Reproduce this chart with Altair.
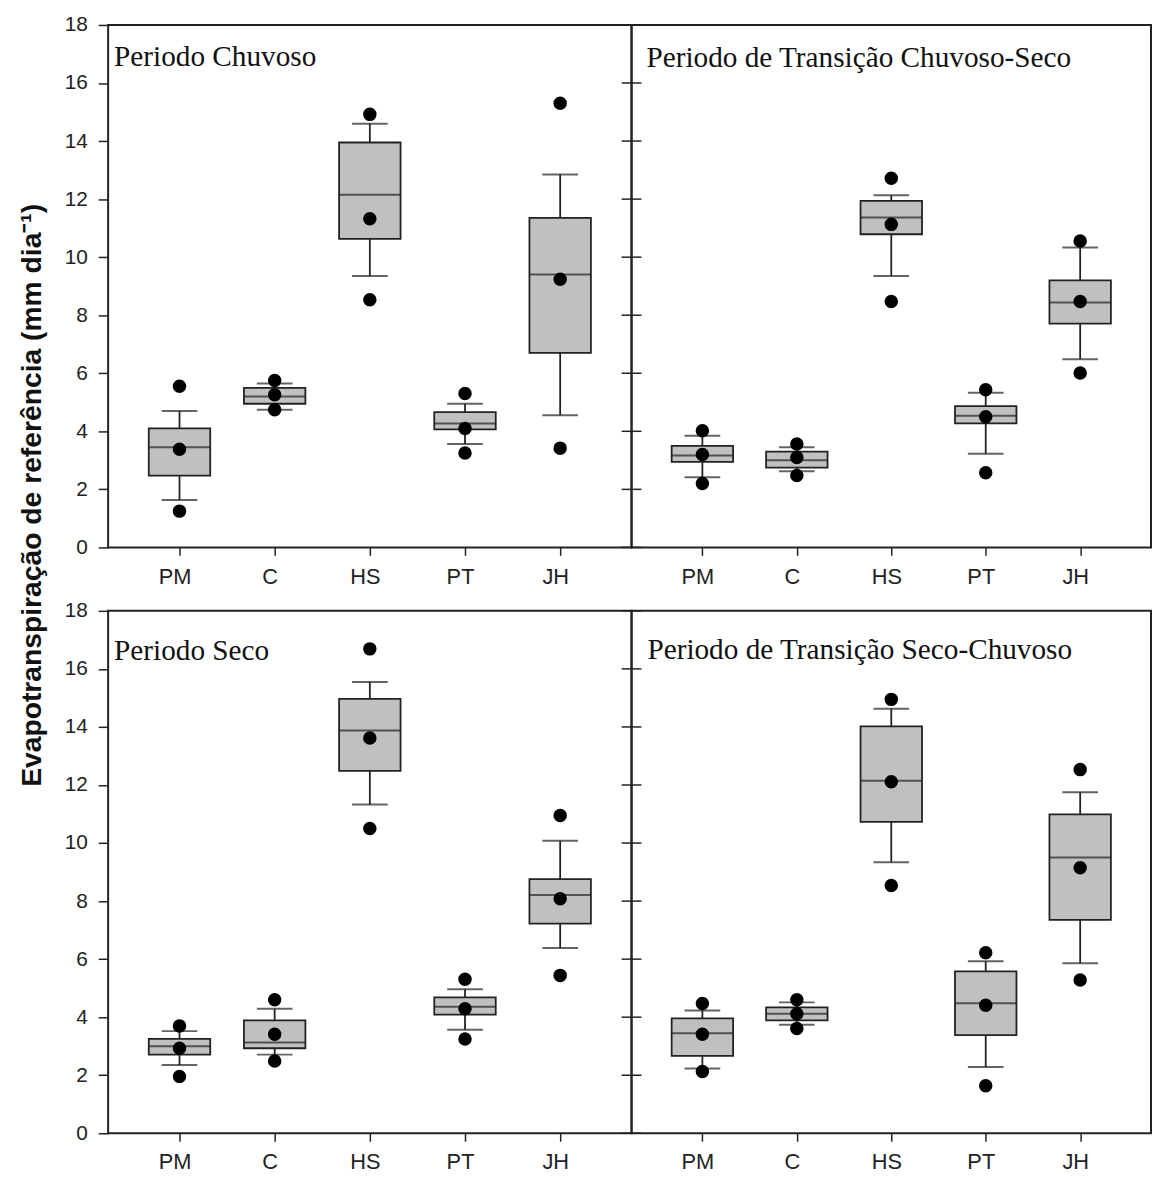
import altair as alt
import pandas as pd

methods = ["PM", "C", "HS", "PT", "JH"]
periods = [
    "Periodo Chuvoso",
    "Periodo de Transição Chuvoso-Seco",
    "Periodo Seco",
    "Periodo de Transição Seco-Chuvoso",
]
y_ticks = [0, 2, 4, 6, 8, 10, 12, 14, 16, 18]
y_title = "Evapotranspiração de referência (mm dia⁻¹)"

# Periodo Chuvoso
chuvoso_whi = [4.70, 5.65, 14.60, 4.95, 12.85]
chuvoso_q3 = [4.10, 5.50, 13.95, 4.66, 11.35]
chuvoso_med = [3.45, 5.20, 12.15, 4.27, 9.40]
chuvoso_q1 = [2.47, 4.95, 10.63, 4.07, 6.70]
chuvoso_wlo = [1.63, 4.74, 9.35, 3.56, 4.55]
chuvoso_phi = [5.55, 5.75, 14.92, 5.30, 15.30]
chuvoso_mean = [3.38, 5.26, 11.32, 4.10, 9.24]
chuvoso_plo = [1.25, 4.74, 8.53, 3.25, 3.42]

# Periodo de Transição Chuvoso-Seco
cs_whi = [3.85, 3.45, 12.13, 5.33, 10.33]
cs_q3 = [3.50, 3.30, 11.94, 4.87, 9.20]
cs_med = [3.17, 3.00, 11.37, 4.54, 8.44]
cs_q1 = [2.95, 2.75, 10.79, 4.27, 7.71]
cs_wlo = [2.42, 2.62, 9.35, 3.23, 6.48]
cs_phi = [4.02, 3.56, 12.72, 5.43, 10.56]
cs_mean = [3.20, 3.10, 11.13, 4.50, 8.47]
cs_plo = [2.20, 2.48, 8.47, 2.57, 6.01]

# Periodo Seco
seco_whi = [3.52, 4.29, 15.55, 4.96, 10.08]
seco_q3 = [3.25, 3.89, 14.97, 4.68, 8.76]
seco_med = [3.00, 3.13, 13.88, 4.36, 8.21]
seco_q1 = [2.71, 2.93, 12.49, 4.09, 7.22]
seco_wlo = [2.35, 2.71, 11.33, 3.57, 6.38]
seco_phi = [3.70, 4.60, 16.69, 5.31, 10.95]
seco_mean = [2.93, 3.41, 13.62, 4.29, 8.08]
seco_plo = [1.96, 2.49, 10.50, 3.25, 5.44]

# Periodo de Transição Seco-Chuvoso
sc_whi = [4.23, 4.51, 14.63, 5.93, 11.75]
sc_q3 = [3.96, 4.34, 14.02, 5.58, 10.99]
sc_med = [3.45, 4.12, 12.15, 4.48, 9.50]
sc_q1 = [2.67, 3.89, 10.73, 3.38, 7.35]
sc_wlo = [2.23, 3.74, 9.34, 2.28, 5.86]
sc_phi = [4.47, 4.60, 14.95, 6.22, 12.53]
sc_mean = [3.41, 4.12, 12.11, 4.41, 9.15]
sc_plo = [2.13, 3.61, 8.54, 1.64, 5.28]

stats = {
    periods[0]: (chuvoso_whi, chuvoso_q3, chuvoso_med, chuvoso_q1, chuvoso_wlo, chuvoso_phi, chuvoso_mean, chuvoso_plo),
    periods[1]: (cs_whi, cs_q3, cs_med, cs_q1, cs_wlo, cs_phi, cs_mean, cs_plo),
    periods[2]: (seco_whi, seco_q3, seco_med, seco_q1, seco_wlo, seco_phi, seco_mean, seco_plo),
    periods[3]: (sc_whi, sc_q3, sc_med, sc_q1, sc_wlo, sc_phi, sc_mean, sc_plo),
}

H = 527
W_LEFT = 528
W_RIGHT = 524
INK = "#222222"
SANS = "Liberation Sans"
SERIF = "Liberation Serif"


def panel(period, width, left_col, show_title, lab_x, lab_y):
    whi, q3, med, q1, wlo, phi, mean, plo = stats[period]
    d = pd.DataFrame({"metodo": methods, "whi": whi, "q3": q3, "med": med,
                      "q1": q1, "wlo": wlo})
    pts = pd.DataFrame({
        "metodo": methods * 3,
        "v": phi + mean + plo,
    })
    ticks_df = pd.DataFrame({"t": y_ticks})

    xaxis = alt.Axis(title=None, labelAngle=0, tickSize=8, tickWidth=1.5,
                     tickColor=INK, domain=False, grid=False,
                     labelFont=SANS, labelFontSize=22, labelColor=INK,
                     labelPadding=11, labelOffset=-5)
    X = alt.X("metodo:N", sort=methods,
              scale=alt.Scale(type="point", padding=0.75), axis=xaxis)

    if left_col:
        yaxis = alt.Axis(values=y_ticks, tickSize=10, tickWidth=1.5,
                         tickColor=INK, domain=False, grid=False,
                         labelFont=SANS, labelFontSize=21, labelColor=INK,
                         labelPadding=11,
                         title=y_title if show_title else None,
                         titleFont=SANS, titleFontSize=28.5,
                         titleFontWeight="bold", titleColor="#111111",
                         titleX=-62, titleY=474, titleBaseline="bottom")
    else:
        yaxis = None
    ysc = alt.Scale(domain=[0, 18], nice=False)

    def Y(f):
        return alt.Y(f, scale=ysc, axis=yaxis)

    base = alt.Chart(d)
    whisk = base.mark_rule(color=INK, strokeWidth=1.8).encode(
        x=X, y=Y("wlo:Q"), y2="whi:Q")
    cap_hi = base.mark_tick(size=36, thickness=2, color=INK).encode(x=X, y=Y("whi:Q"))
    cap_lo = base.mark_tick(size=36, thickness=2, color=INK).encode(x=X, y=Y("wlo:Q"))
    box = base.mark_bar(size=62, fill="#c0c0c0", stroke=INK, strokeWidth=1.8).encode(
        x=X, y=Y("q1:Q"), y2="q3:Q")
    median = base.mark_tick(size=62, thickness=2, color=INK).encode(x=X, y=Y("med:Q"))
    dots = alt.Chart(pts).mark_circle(size=185, color="black", opacity=1).encode(
        x=X, y=Y("v:Q"))
    if left_col:
        tx0, tx1 = width - 10, width
    else:
        tx0, tx1 = 0, 10
    inner = alt.Chart(ticks_df).mark_rule(color=INK, strokeWidth=1.5).encode(
        y=Y("t:Q"), x=alt.value(tx0), x2=alt.value(tx1))
    label = alt.Chart(alt.Data(values=[{"lab": period}])).mark_text(
        align="left", baseline="alphabetic", font=SERIF, fontSize=29.5,
        color="#111111").encode(x=alt.value(lab_x), y=alt.value(lab_y),
                                text="lab:N")
    return alt.layer(whisk, cap_hi, cap_lo, box, median, dots, inner, label).properties(
        width=width, height=H)


p1 = panel(periods[0], W_LEFT, True, True, 6, 41)
p2 = panel(periods[1], W_RIGHT, False, False, 15, 42)
p3 = panel(periods[2], W_LEFT, True, False, 6, 50)
p4 = panel(periods[3], W_RIGHT, False, False, 16, 49)

chart = alt.concat(p1, p2, p3, p4, columns=2,
                   spacing={"row": 64, "column": 0}, bounds="flush").properties(
    padding={"left": 9, "top": 0, "right": 0, "bottom": 0},
    background="white",
).configure_view(stroke=INK, strokeWidth=2)

chart.save("out.html", embed_options={"renderer": "svg", "actions": False})
